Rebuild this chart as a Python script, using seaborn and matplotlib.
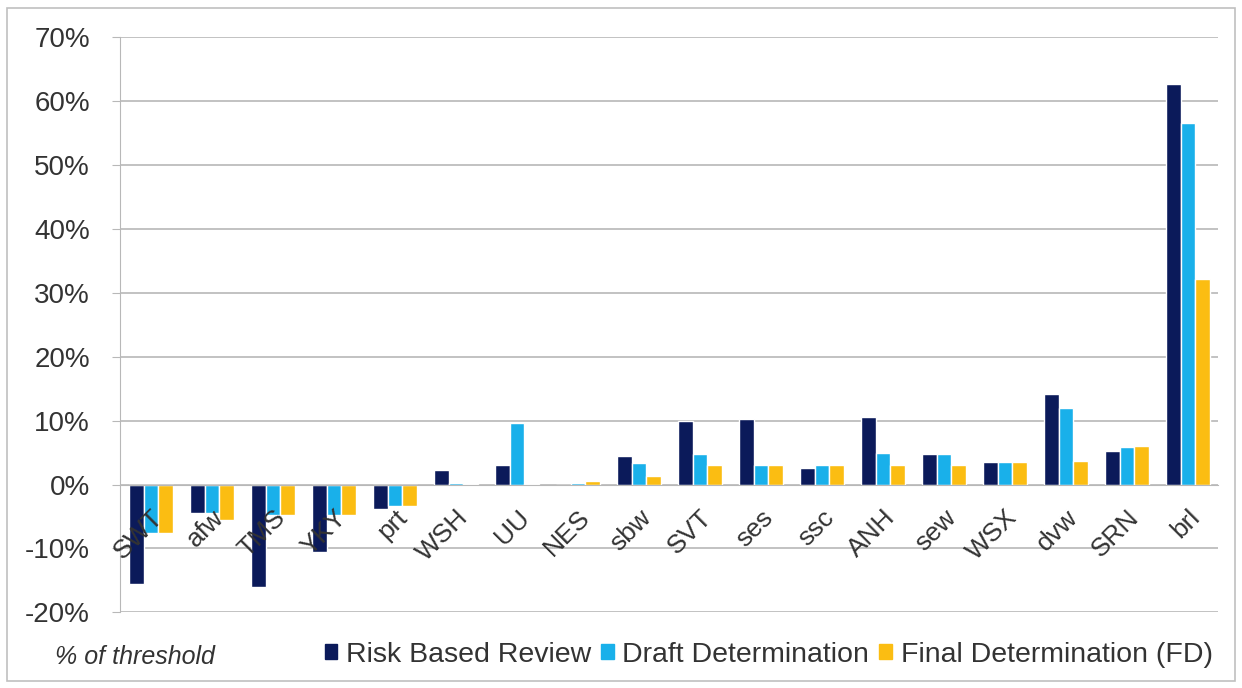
import pandas as pd
import matplotlib
matplotlib.use("Agg")
import matplotlib.pyplot as plt
from matplotlib.patches import Rectangle
from matplotlib.ticker import FixedLocator, PercentFormatter
import seaborn as sns

# data (% of threshold)
companies = ["SWT", "afw", "TMS", "YKY", "prt", "WSH", "UU", "NES", "sbw",
             "SVT", "ses", "ssc", "ANH", "sew", "WSX", "dvw", "SRN", "brl"]
risk_based = [-15.6, -4.4, -16.1, -10.5, -3.9, 2.3, 3.0, 0.0, 4.4,
              9.9, 10.3, 2.6, 10.5, 4.7, 3.5, 14.1, 5.3, 62.7]
draft_det = [-7.6, -4.4, -4.7, -4.7, -3.4, 0.2, 9.7, 0.3, 3.4,
             4.8, 3.0, 3.0, 5.0, 4.7, 3.5, 12.0, 5.9, 56.5]
final_det = [-7.6, -5.5, -4.7, -4.7, -3.4, 0.1, 0.1, 0.5, 1.3,
             3.0, 3.0, 3.0, 3.0, 3.0, 3.5, 3.6, 6.0, 32.2]
series_names = ["Risk Based Review", "Draft Determination", "Final Determination (FD)"]
colours = ["#0b1a5a", "#19b0ea", "#fbbd12"]

df = pd.DataFrame({
    "company": companies * 3,
    "value": risk_based + draft_det + final_det,
    "series": [s for s in series_names for _ in companies],
})

sns.set_style("white")
plt.rcParams["font.family"] = ["Liberation Sans", "DejaVu Sans"]
plt.rcParams["axes.unicode_minus"] = False

fig = plt.figure(figsize=(12.42, 6.88), dpi=100)
ax = fig.add_axes([0.097, 0.110, 0.884, 0.836])

sns.barplot(data=df, x="company", y="value", hue="series", palette=colours,
            width=0.72, saturation=1, ax=ax, legend=False)

ax.set_ylim(-20, 70)
ax.set_xlim(-0.5, len(companies) - 0.5)
ax.yaxis.set_major_locator(FixedLocator(range(-20, 71, 10)))
ax.yaxis.set_major_formatter(PercentFormatter(decimals=0))
ax.grid(axis="y", color="#b8b8b8", linewidth=1.2)
ax.set_axisbelow(True)
# company labels are drawn over the bars, as in the original
ax.xaxis.set_zorder(3)
ax.set_xlabel("")
ax.set_ylabel("")

# x axis sits on zero, ticks at category boundaries
ax.spines["bottom"].set_position(("data", 0))
ax.spines["bottom"].set_color("#b8b8b8")
ax.spines["left"].set_color("#b8b8b8")
ax.spines["top"].set_visible(False)
ax.spines["right"].set_visible(False)
ax.tick_params(axis="x", which="major", length=0, pad=15)
ax.set_xticks([i + 0.5 for i in range(len(companies) - 1)], minor=True)
ax.tick_params(axis="x", which="minor", length=5, color="#b8b8b8", direction="out")
ax.tick_params(axis="y", length=6, color="#b8b8b8", left=True, labelsize=20,
               labelcolor="#333333", pad=16)
for lab in ax.get_xticklabels():
    lab.set_rotation(45)
    lab.set_ha("right")
    lab.set_va("top")
    lab.set_rotation_mode("anchor")
    lab.set_fontsize(19)
    lab.set_color("#333333")

handles = [Rectangle((0, 0), 1, 1, color=c) for c in colours]
fig.legend(handles, series_names, loc="center right", bbox_to_anchor=(0.997, 0.048),
           ncol=3, frameon=False, fontsize=20.5, handlelength=0.45, handleheight=0.45,
           handletextpad=0.3, columnspacing=0.35, labelcolor="#333333")
fig.text(0.044, 0.045, "% of threshold", fontsize=18, style="italic",
         color="#333333", va="center")

fig.add_artist(Rectangle((0.006, 0.01), 0.988, 0.978, transform=fig.transFigure,
                         fill=False, edgecolor="#c0c0c0", linewidth=1.2))

fig.savefig("out.png", dpi=100)
